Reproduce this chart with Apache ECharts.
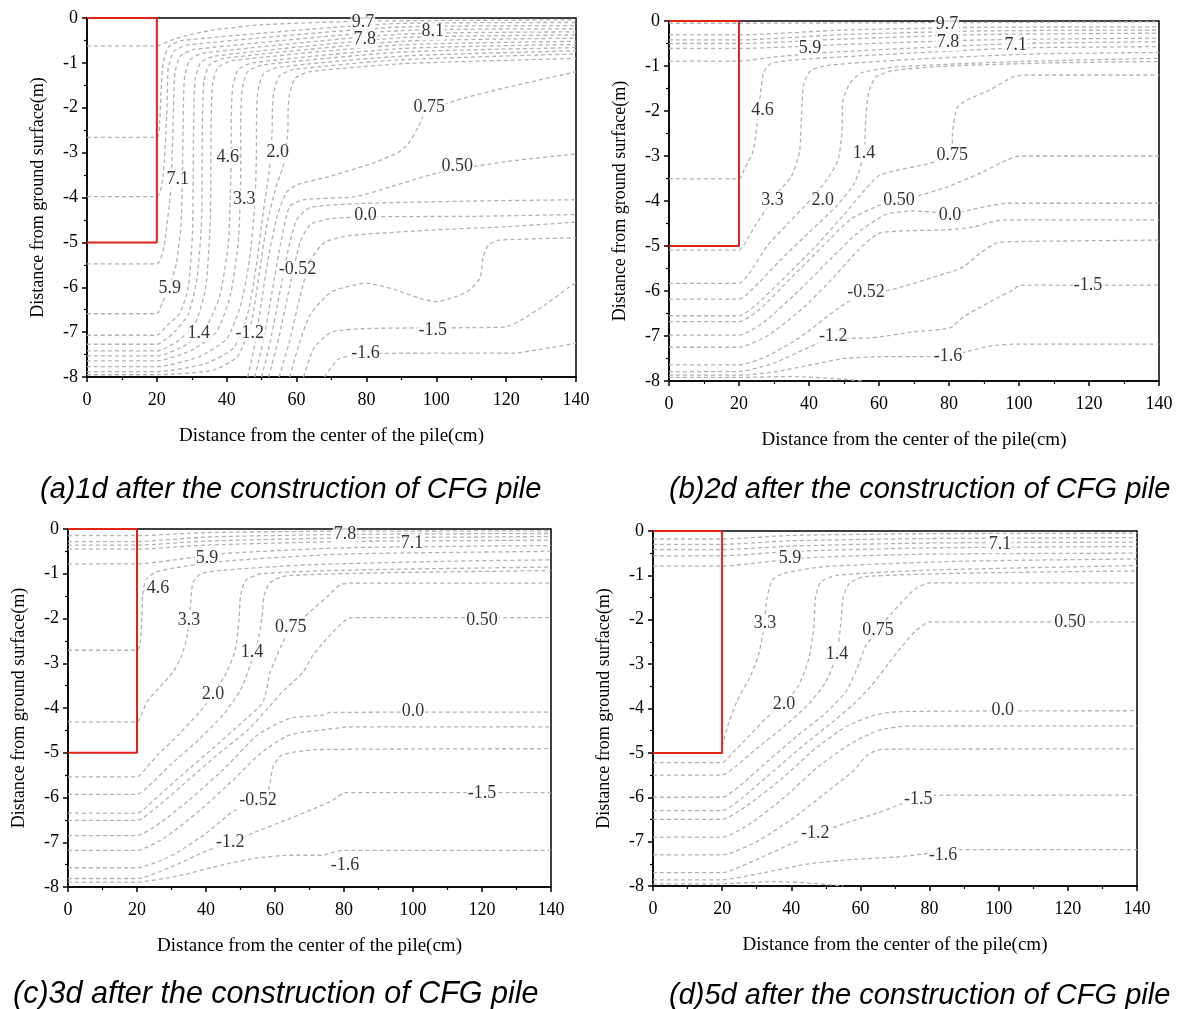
<!DOCTYPE html>
<html>
<head>
<meta charset="utf-8">
<script src="https://cdn.jsdelivr.net/npm/echarts@6/dist/echarts.min.js"></script>
<style>
html,body{margin:0;padding:0;background:#fff;}
#chart{width:1182px;height:1009px;}
</style>
</head>
<body>
<div id="chart"></div>
<script>
// Pore pressure contours around a CFG pile at four times after construction.
// x: distance from the pile axis (cm), y: depth below ground (m, negative).

const xTickLabels = ['0', '20', '40', '60', '80', '100', '120', '140'];
const yTickLabels = ['-8', '-7', '-6', '-5', '-4', '-3', '-2', '-1', '0'];

const pileRadius = 20;   // cm
const pileLength = 5;    // m

const captions = [
  '(a)1d after the construction of CFG pile',
  '(b)2d after the construction of CFG pile',
  '(c)3d after the construction of CFG pile',
  '(d)5d after the construction of CFG pile'
];

// ---- (a) 1 day ----
const contoursA = [
  [[0,-0.62],[20,-0.62],[24,-0.5],[28,-0.4],[36,-0.27],[50,-0.15],[80,-0.07],[140,-0.04]],
  [[0,-2.66],[20,-2.66],[20.8,-2.3],[21.3,-1.5],[21.8,-1.0],[23.3,-0.65],[27.3,-0.5],[90,-0.12],[140,-0.1]],
  [[0,-3.98],[20,-3.98],[21.8,-3.5],[22.8,-2.2],[23.1,-1.3],[23.3,-1.1],[24.8,-0.75],[28.8,-0.6],[90,-0.2],[140,-0.17]],
  [[0,-5.48],[20,-5.48],[22,-5.1],[24,-3.8],[24.7,-2.2],[25,-1.4],[25.2,-1.2],[26.7,-0.85],[30.7,-0.7],[90,-0.28],[140,-0.24]],
  [[0,-6.59],[20,-6.59],[21.5,-6.35],[23.7,-5.98],[25.6,-5.46],[27,-4.5],[27.5,-2.5],[27.7,-1.6],[28,-1.28],[29.5,-0.93],[33.5,-0.78],[90,-0.36],[140,-0.31]],
  [[0,-7.07],[20,-7.07],[22.7,-6.87],[26.6,-6.58],[29,-6.0],[30.2,-4.8],[30.5,-2.5],[30.7,-1.7],[31,-1.35],[32.5,-1.0],[36.5,-0.85],[90,-0.44],[140,-0.38]],
  [[0,-7.27],[20,-7.27],[25,-7.0],[29,-6.6],[31.5,-5.8],[32.8,-4.5],[33,-2.5],[33.2,-1.8],[33.5,-1.4],[35,-1.05],[39,-0.9],[90,-0.52],[140,-0.45]],
  [[0,-7.42],[20,-7.42],[26,-7.2],[31,-6.8],[34,-6.0],[35.3,-4.5],[35.5,-2.5],[35.7,-1.8],[36,-1.45],[37.5,-1.1],[41.5,-0.95],[90,-0.6],[140,-0.52]],
  [[0,-7.53],[20,-7.53],[28,-7.3],[34,-6.9],[38,-6.2],[40.5,-5.0],[41.2,-3.5],[41.3,-2.5],[41.4,-1.9],[41.8,-1.5],[43.3,-1.15],[47.3,-1.0],[90,-0.68],[140,-0.59]],
  [[0,-7.64],[20,-7.64],[30,-7.4],[37,-7.0],[41,-6.2],[43.3,-5.0],[44,-3.5],[44,-2.5],[44.1,-1.95],[44.5,-1.55],[46,-1.2],[50,-1.05],[90,-0.76],[140,-0.66]],
  [[0,-7.77],[20,-7.77],[32,-7.55],[40,-7.15],[44,-6.4],[46.5,-5.4],[48,-4.2],[48.5,-3.0],[48.5,-2.5],[48.6,-2.0],[49,-1.6],[50.5,-1.25],[54.5,-1.1],[90,-0.85],[140,-0.73]],
  [[0,-7.88],[20,-7.88],[34,-7.7],[42,-7.35],[46,-6.6],[48.5,-5.5],[50.5,-4.3],[52.5,-3.2],[53,-2.5],[53.1,-2.0],[53.5,-1.65],[55,-1.3],[59,-1.15],[90,-0.93],[140,-0.8]],
  [[0,-7.95],[20,-7.95],[36,-7.85],[43,-7.55],[47,-6.8],[49.5,-5.6],[51.5,-4.6],[54,-3.8],[56.5,-3.2],[57.5,-2.5],[57.6,-2.0],[58,-1.7],[59.5,-1.35],[63.5,-1.2],[90,-1.02],[140,-0.9]],
  [[46,-8],[48,-7.3],[50,-6.3],[52,-5.3],[54.5,-4.4],[57,-3.9],[60,-3.72],[70,-3.52],[82,-3.23],[89,-3.0],[92,-2.8],[95,-2.4],[97,-2.1],[105,-1.85],[120,-1.55],[140,-1.2]],
  [[48,-8],[50.5,-7.2],[53,-6.1],[55.5,-5.0],[58,-4.2],[62,-4.05],[77,-3.98],[87,-3.76],[100,-3.46],[120,-3.2],[140,-3.03]],
  [[50,-8],[52.5,-7.2],[55,-6.2],[57.5,-5.2],[60,-4.5],[64,-4.22],[80,-4.13],[110,-4.08],[140,-4.05]],
  [[52,-8],[55,-7.1],[58,-6.0],[61,-5.0],[64,-4.6],[70,-4.47],[80,-4.43],[110,-4.42],[140,-4.38]],
  [[55,-8],[58,-7.2],[61,-6.2],[64,-5.4],[68,-5.0],[75,-4.85],[100,-4.72],[120,-4.65],[140,-4.55]],
  [[58,-8],[61,-7.2],[64,-6.6],[70,-6.1],[80,-5.91],[88,-6.05],[95,-6.24],[100,-6.32],[106,-6.2],[109.5,-6.06],[112.5,-5.8],[113.5,-5.3],[115,-5.05],[118,-4.95],[140,-4.9]],
  [[62,-8],[65,-7.35],[70,-7.0],[80,-6.92],[110,-6.9],[120,-6.88],[125,-6.7],[131,-6.4],[138,-6.0],[140,-5.9]],
  [[68,-8],[72,-7.6],[80,-7.48],[100,-7.47],[122,-7.47],[130,-7.38],[140,-7.25]]
];
const labelsA = [
  [79,-0.1,'9.7'],[79.5,-0.48,'7.8'],[99,-0.3,'8.1'],
  [26,-3.6,'7.1'],[40.3,-3.1,'4.6'],[54.6,-3.0,'2.0'],[45,-4.03,'3.3'],
  [23.7,-6.03,'5.9'],[32,-7.02,'1.4'],[46.6,-7.02,'-1.2'],[60.3,-5.61,'-0.52'],
  [79.7,-4.39,'0.0'],[106,-3.3,'0.50'],[98,-2.0,'0.75'],[99,-6.95,'-1.5'],[79.7,-7.48,'-1.6']
];

// ---- (b) 2 days ----
const contoursB = [
  [[0,-0.05],[20,-0.05],[60,-0.04],[140,-0.02]],
  [[0,-0.31],[20,-0.31],[50,-0.2],[90,-0.14],[140,-0.13]],
  [[0,-0.42],[20,-0.42],[50,-0.3],[90,-0.22],[140,-0.2]],
  [[0,-0.5],[20,-0.5],[50,-0.4],[90,-0.3],[140,-0.27]],
  [[0,-0.61],[20,-0.61],[50,-0.52],[90,-0.42],[140,-0.38]],
  [[0,-0.89],[20,-0.89],[30,-0.8],[45,-0.7],[70,-0.6],[100,-0.5],[140,-0.46]],
  [[0,-3.51],[20,-3.51],[21.5,-3.3],[24,-2.9],[25,-2.4],[26,-1.7],[27,-1.15],[29,-0.95],[35,-0.87],[60,-0.75],[100,-0.6],[140,-0.57]],
  [[0,-5.09],[20,-5.09],[22,-4.9],[25,-4.5],[31,-3.82],[35,-3.45],[37.3,-2.9],[37.9,-2.0],[38.5,-1.4],[40.5,-1.1],[46,-0.98],[70,-0.85],[105,-0.73],[140,-0.7]],
  [[0,-5.83],[20,-5.83],[23,-5.6],[28,-5.0],[34,-4.5],[40.3,-3.98],[45.1,-3.53],[48.3,-3.09],[49.4,-2.49],[49.7,-1.76],[51.7,-1.38],[55,-1.15],[65,-1.02],[100,-0.9],[140,-0.83]],
  [[0,-6.18],[20,-6.18],[24,-5.95],[32,-5.3],[40,-4.7],[48,-4.1],[53,-3.6],[55.7,-2.94],[56.2,-2.2],[57,-1.6],[59,-1.25],[64,-1.1],[80,-1.0],[110,-0.93],[140,-0.9]],
  [[0,-6.55],[20,-6.55],[25,-6.3],[33,-5.7],[42,-5.0],[50,-4.3],[56,-3.75],[60.3,-3.42],[74.6,-3.16],[80.9,-2.98],[81,-2.49],[82.3,-1.93],[85,-1.76],[91.7,-1.53],[98.3,-1.24],[102,-1.2],[140,-1.2]],
  [[0,-6.68],[20,-6.68],[26,-6.4],[35,-5.7],[44,-5.0],[52,-4.4],[60,-4.1],[65.7,-3.98],[71.7,-3.87],[79.4,-3.69],[88.9,-3.38],[96.5,-3.09],[100,-3.0],[140,-3.0]],
  [[0,-6.98],[20,-6.98],[27,-6.7],[37,-6.0],[46,-5.3],[54,-4.7],[62,-4.3],[70,-4.22],[76,-4.25],[80.3,-4.28],[86,-4.2],[92,-4.1],[96.6,-4.05],[140,-4.05]],
  [[0,-7.25],[20,-7.25],[28,-7.0],[38,-6.4],[47,-5.7],[54,-5.1],[60.3,-4.71],[79.4,-4.64],[86.9,-4.58],[93,-4.45],[96.6,-4.42],[140,-4.42]],
  [[0,-7.64],[20,-7.64],[28,-7.45],[38,-7.0],[48,-6.4],[56.3,-6.02],[63.1,-5.98],[79.4,-5.6],[84,-5.47],[88.9,-5.16],[93.7,-4.93],[100,-4.9],[140,-4.87]],
  [[0,-7.79],[20,-7.79],[30,-7.6],[40,-7.25],[46.9,-7.05],[55,-7.05],[60.3,-7.02],[69.7,-6.91],[80.3,-6.82],[84,-6.58],[88.9,-6.36],[93.7,-6.16],[98.3,-5.98],[100.3,-5.87],[140,-5.87]],
  [[0,-7.87],[20,-7.87],[30,-7.8],[40,-7.65],[50,-7.5],[60.3,-7.46],[74.6,-7.46],[79.7,-7.44],[85,-7.35],[92,-7.22],[99.4,-7.18],[140,-7.18]],
  [[0,-7.92],[20,-7.92],[35,-7.9],[48,-7.95],[55,-8]]
];
const labelsB = [
  [79.4,-0.08,'9.7'],[79.7,-0.47,'7.8'],[99.1,-0.53,'7.1'],[40.3,-0.6,'5.9'],
  [26.7,-1.98,'4.6'],[55.7,-2.94,'1.4'],[29.6,-3.98,'3.3'],[43.9,-3.98,'2.0'],
  [65.7,-3.98,'0.50'],[80.9,-2.98,'0.75'],[80.3,-4.31,'0.0'],[56.3,-6.02,'-0.52'],
  [46.9,-7.0,'-1.2'],[119.7,-5.87,'-1.5'],[79.7,-7.44,'-1.6']
];

// ---- (c) 3 days ----
const contoursC = [
  [[0,-0.15],[20,-0.15],[40,-0.08],[80,-0.05],[140,-0.04]],
  [[0,-0.28],[20,-0.28],[40,-0.18],[80,-0.12],[140,-0.1]],
  [[0,-0.36],[20,-0.36],[40,-0.27],[80,-0.2],[140,-0.17]],
  [[0,-0.45],[20,-0.45],[40,-0.36],[80,-0.28],[140,-0.25]],
  [[0,-0.78],[20,-0.78],[30,-0.7],[45,-0.55],[80,-0.42],[140,-0.37]],
  [[0,-2.71],[20,-2.71],[21,-2.5],[21.4,-2.0],[21.6,-1.5],[22.5,-1.15],[25,-0.98],[30,-0.88],[45,-0.72],[80,-0.56],[140,-0.5]],
  [[0,-4.31],[20,-4.31],[21.5,-4.1],[23,-3.85],[25.8,-3.6],[30.4,-3.2],[33,-2.82],[34.5,-2.4],[35.4,-1.8],[36.2,-1.2],[38.5,-1.0],[45,-0.92],[70,-0.8],[110,-0.72],[140,-0.69]],
  [[0,-5.54],[20,-5.54],[22.9,-5.32],[26,-5.05],[32,-4.6],[38,-4.1],[42,-3.7],[46,-3.2],[48.5,-2.7],[49.6,-2.0],[50,-1.5],[51.5,-1.15],[56,-1.0],[80,-0.92],[140,-0.85]],
  [[0,-5.93],[20,-5.93],[24,-5.7],[30,-5.25],[38,-4.7],[45,-4.15],[50,-3.6],[53,-3.0],[55,-2.5],[56.2,-2.0],[56.8,-1.5],[58.5,-1.2],[63,-1.05],[90,-0.98],[140,-0.93]],
  [[0,-6.35],[20,-6.35],[25,-6.05],[33,-5.5],[42,-4.9],[50,-4.35],[56.5,-3.87],[58.6,-3.2],[60.6,-2.82],[62.3,-2.53],[64.6,-2.2],[68,-2.0],[70,-1.86],[75,-1.52],[78.8,-1.25],[82,-1.21],[140,-1.21]],
  [[0,-6.51],[20,-6.51],[26,-6.2],[35,-5.6],[44,-5.0],[52,-4.5],[58,-4.0],[62,-3.65],[65.2,-3.42],[68.1,-3.2],[71,-2.82],[73.9,-2.55],[76.8,-2.3],[79.7,-2.08],[82,-1.98],[140,-1.98]],
  [[0,-6.85],[20,-6.85],[27,-6.55],[36,-6.0],[46,-5.3],[55,-4.6],[64.3,-4.23],[73.9,-4.16],[76,-4.1],[140,-4.09]],
  [[0,-7.18],[20,-7.18],[28,-6.9],[38,-6.3],[48,-5.6],[56,-5.0],[64.3,-4.6],[78,-4.45],[81,-4.42],[140,-4.42]],
  [[0,-7.57],[20,-7.57],[30,-7.3],[40,-6.8],[48,-6.3],[55.1,-6.06],[58,-5.85],[59.5,-5.3],[62,-5.05],[72,-4.93],[140,-4.91]],
  [[0,-7.81],[20,-7.81],[30,-7.55],[40,-7.2],[47,-7.0],[55,-6.75],[64.3,-6.47],[72.2,-6.22],[76.8,-6.06],[80.3,-5.89],[140,-5.89]],
  [[0,-7.89],[20,-7.89],[32,-7.75],[45,-7.5],[55,-7.35],[64.3,-7.29],[73.9,-7.29],[77,-7.22],[79.4,-7.18],[140,-7.18]]
];
const labelsC = [
  [80.3,-0.12,'7.8'],[99.7,-0.31,'7.1'],[40.3,-0.65,'5.9'],[26.1,-1.32,'4.6'],
  [35.1,-2.03,'3.3'],[53.3,-2.75,'1.4'],[42,-3.7,'2.0'],[64.6,-2.2,'0.75'],
  [120,-2.03,'0.50'],[100,-4.07,'0.0'],[55.1,-6.06,'-0.52'],[47,-7.0,'-1.2'],
  [120,-5.91,'-1.5'],[80.3,-7.52,'-1.6']
];

// ---- (d) 5 days ----
const contoursD = [
  [[0,-0.18],[20,-0.18],[40,-0.1],[80,-0.06],[140,-0.05]],
  [[0,-0.3],[20,-0.3],[40,-0.22],[80,-0.17],[140,-0.15]],
  [[0,-0.42],[20,-0.42],[40,-0.34],[80,-0.27],[140,-0.25]],
  [[0,-0.56],[20,-0.56],[40,-0.46],[80,-0.38],[140,-0.35]],
  [[0,-0.79],[20,-0.79],[30,-0.72],[45,-0.6],[80,-0.52],[140,-0.5]],
  [[20,-4.85],[22,-4.3],[24.5,-3.8],[28,-3.3],[30.5,-2.8],[32,-2.2],[33,-1.5],[34.5,-1.1],[38,-0.95],[50,-0.8],[90,-0.68],[140,-0.63]],
  [[0,-5.22],[20,-5.22],[23,-5.0],[28,-4.6],[33,-4.2],[37.9,-3.9],[42,-3.5],[45,-2.9],[46.5,-2.2],[47,-1.5],[48.5,-1.15],[53,-1.0],[80,-0.88],[140,-0.78]],
  [[0,-5.5],[20,-5.5],[24,-5.3],[30,-4.9],[38,-4.4],[45,-3.9],[50,-3.4],[53.2,-2.77],[54.3,-2.1],[55,-1.5],[56.8,-1.18],[61,-1.03],[90,-0.95],[140,-0.9]],
  [[0,-6.0],[20,-6.0],[25,-5.75],[33,-5.2],[42,-4.6],[50,-4.1],[56,-3.6],[59,-3.1],[61.5,-2.6],[65.1,-2.23],[68,-1.95],[72,-1.6],[76,-1.3],[80,-1.17],[140,-1.17]],
  [[0,-6.3],[20,-6.3],[26,-6.0],[35,-5.4],[44,-4.8],[52,-4.3],[58,-3.9],[63,-3.5],[68,-3.0],[72,-2.6],[76,-2.25],[80,-2.05],[140,-2.05]],
  [[0,-6.5],[20,-6.5],[27,-6.2],[37,-5.6],[47,-4.9],[56,-4.4],[64,-4.15],[71,-4.07],[140,-4.05]],
  [[0,-6.9],[20,-6.9],[28,-6.6],[38,-6.0],[48,-5.3],[57,-4.8],[65,-4.5],[73,-4.4],[140,-4.39]],
  [[0,-7.3],[20,-7.3],[30,-7.0],[40,-6.5],[50,-5.9],[58,-5.4],[62,-5.05],[66,-4.92],[140,-4.91]],
  [[0,-7.7],[20,-7.7],[30,-7.4],[40,-7.05],[46.9,-6.85],[55,-6.6],[65,-6.35],[72,-6.15],[76.7,-6.04],[80,-5.95],[140,-5.95]],
  [[0,-7.86],[20,-7.86],[32,-7.7],[45,-7.5],[58,-7.4],[70,-7.35],[78,-7.28],[83.9,-7.22],[88,-7.18],[140,-7.18]],
  [[0,-7.95],[20,-7.95],[35,-7.9],[48,-7.95],[55,-8]]
];
const labelsD = [
  [100.4,-0.3,'7.1'],[39.6,-0.61,'5.9'],[32.4,-2.09,'3.3'],[65.1,-2.23,'0.75'],
  [53.2,-2.77,'1.4'],[120.6,-2.05,'0.50'],[37.9,-3.9,'2.0'],[101.2,-4.05,'0.0'],
  [76.7,-6.04,'-1.5'],[46.9,-6.82,'-1.2'],[83.9,-7.3,'-1.6']
];

// ---- layout of the four panels ----
const panels = [
  { grid: { left: 87,  top: 18,  width: 489, height: 359 }, lines: contoursA, labels: labelsA, cap: { left: 35,  top: 470, size: 29 } },
  { grid: { left: 669, top: 21,  width: 490, height: 360 }, lines: contoursB, labels: labelsB, cap: { left: 664, top: 470, size: 29 } },
  { grid: { left: 68,  top: 529, width: 483, height: 358 }, lines: contoursC, labels: labelsC, cap: { left: 8,   top: 975, size: 30.5 } },
  { grid: { left: 653, top: 531, width: 484, height: 355 }, lines: contoursD, labels: labelsD, cap: { left: 664, top: 976, size: 29 } }
];

const serif = '"Liberation Serif", "Times New Roman", serif';
const pileOutline = [[0, 0], [pileRadius, 0], [pileRadius, -pileLength], [0, -pileLength]];

const grids = [], xAxes = [], yAxes = [], series = [], titles = [];

panels.forEach((p, i) => {
  grids.push(Object.assign({
    show: true, borderColor: '#000', borderWidth: 1.5,
    backgroundColor: 'transparent', containLabel: false, outerBoundsMode: 'none'
  }, p.grid));

  xAxes.push({
    type: 'value', gridIndex: i, min: 0, max: 140, interval: 20,
    name: 'Distance from the center of the pile(cm)',
    nameLocation: 'middle', nameGap: 50,
    nameTextStyle: { fontFamily: serif, fontSize: 19, color: '#000' },
    axisLine: { show: true, onZero: false, lineStyle: { color: '#000', width: 1.5 } },
    axisTick: { show: true, inside: false, length: 5, lineStyle: { color: '#000', width: 1.5 } },
    minorTick: { show: true, splitNumber: 2, length: 3, lineStyle: { color: '#000', width: 1.2 } },
    splitLine: { show: false },
    axisLabel: {
      color: '#000', fontFamily: serif, fontSize: 18, margin: 14,
      formatter: v => xTickLabels[Math.round(v / 20)]
    }
  });

  yAxes.push({
    type: 'value', gridIndex: i, min: -8, max: 0, interval: 1,
    name: 'Distance from ground surface(m)',
    nameLocation: 'middle', nameGap: 40,
    nameTextStyle: { fontFamily: serif, fontSize: 18, color: '#000' },
    axisLine: { show: true, onZero: false, lineStyle: { color: '#000', width: 1.5 } },
    axisTick: { show: true, inside: false, length: 5, lineStyle: { color: '#000', width: 1.5 } },
    minorTick: { show: true, splitNumber: 2, length: 3, lineStyle: { color: '#000', width: 1.2 } },
    splitLine: { show: false },
    axisLabel: {
      color: '#000', fontFamily: serif, fontSize: 18, margin: 9,
      formatter: v => yTickLabels[Math.round(v + 8)]
    }
  });

  p.lines.forEach(line => {
    series.push({
      type: 'line', xAxisIndex: i, yAxisIndex: i, data: line,
      showSymbol: false, silent: true, smooth: 0.2, z: 2,
      lineStyle: { color: '#b2b2b2', width: 1.3, type: [4, 3] }
    });
  });

  series.push({
    type: 'line', xAxisIndex: i, yAxisIndex: i, data: pileOutline,
    showSymbol: false, silent: true, z: 5,
    lineStyle: { color: '#e2231a', width: 2 }
  });

  series.push({
    type: 'scatter', xAxisIndex: i, yAxisIndex: i, data: p.labels,
    symbolSize: 1, silent: true, z: 6,
    itemStyle: { color: 'rgba(0,0,0,0)' },
    label: {
      show: true, position: 'inside', formatter: q => q.data[2],
      fontFamily: serif, fontSize: 18, color: '#000',
      backgroundColor: '#fff', padding: [0, 1]
    }
  });

  titles.push({
    text: captions[i], left: p.cap.left, top: p.cap.top,
    textStyle: {
      fontFamily: '"Liberation Sans", Arial, sans-serif', fontStyle: 'italic',
      fontWeight: 'normal', fontSize: p.cap.size, color: '#000'
    }
  });
});

const chart = echarts.init(document.getElementById('chart'), null, { renderer: 'canvas' });
chart.setOption({
  animation: false,
  backgroundColor: '#fff',
  title: titles,
  grid: grids,
  xAxis: xAxes,
  yAxis: yAxes,
  series: series
});
</script>
</body>
</html>
